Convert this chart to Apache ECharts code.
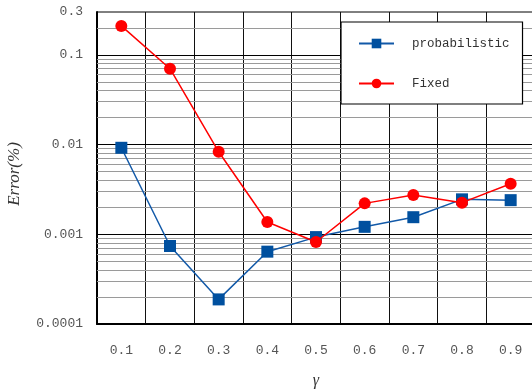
<!DOCTYPE html>
<html>
<head>
<meta charset="utf-8">
<script src="https://cdn.jsdelivr.net/npm/echarts@6/dist/echarts.min.js"></script>
<style>
  html, body { margin: 0; padding: 0; background: #fff; }
  #chart { width: 532px; height: 392px; }
</style>
</head>
<body>
<div id="chart"></div>
<script>
// γ values along the x axis
const gammas = ['0.1', '0.2', '0.3', '0.4', '0.5', '0.6', '0.7', '0.8', '0.9'];
// Error (%) for each method
const probabilistic = [0.0092, 0.00074, 0.000188, 0.00064, 0.00093, 0.00121, 0.00155, 0.00245, 0.0024];
const fixed = [0.21, 0.07, 0.0083, 0.00137, 0.00082, 0.00221, 0.00274, 0.00225, 0.00365];
// y axis labels
const yTickValues = [0.0001, 0.001, 0.01, 0.1, 0.3];
const yTickLabels = ['0.0001', '0.001', '0.01', '0.1', '0.3'];
// major and minor horizontal grid lines
const majorLines = [0.001, 0.01, 0.1];
const minorLines = [];
[0.0001, 0.001, 0.01, 0.1].forEach(function (d) {
  for (let m = 2; m <= 9; m++) {
    const v = +(d * m).toPrecision(3);
    if (v < 0.3) minorLines.push(v);
  }
});

const chart = echarts.init(document.getElementById('chart'), null, { renderer: 'canvas' });
const monoFont = '"Liberation Mono", "Courier New", monospace';

const gridLineData = minorLines.map(function (v) {
  return { yAxis: v, lineStyle: { color: '#9a9a9a', width: 1, type: 'solid' } };
}).concat(majorLines.map(function (v) {
  return { yAxis: v, lineStyle: { color: '#000', width: 1, type: 'solid' } };
}));

chart.setOption({
  animation: false,
  grid: {
    left: 97, top: 12, width: 438, height: 312,
    outerBoundsMode: 'none',
    containLabel: false,
    show: true, borderColor: '#000', borderWidth: 1, backgroundColor: 'transparent'
  },
  legend: {
    orient: 'vertical',
    left: 341, top: 22,
    padding: [15, 13, 14, 17],
    itemWidth: 35, itemHeight: 12, itemGap: 27,
    backgroundColor: '#fff',
    borderColor: '#000', borderWidth: 1.2,
    textStyle: { fontFamily: monoFont, fontSize: 12.5, color: '#333', padding: [0, 0, 0, 13] },
    data: ['probabilistic', 'Fixed']
  },
  xAxis: {
    type: 'category',
    data: gammas,
    boundaryGap: true,
    name: 'γ',
    nameLocation: 'middle',
    nameGap: 49,
    nameTextStyle: { fontFamily: '"Liberation Serif", serif', fontStyle: 'italic', fontSize: 16, color: '#333' },
    axisLine: { lineStyle: { color: '#000', width: 2 } },
    axisTick: { show: false },
    axisLabel: { fontFamily: monoFont, fontSize: 13, color: '#555', margin: 20 },
    splitLine: { show: true, lineStyle: { color: '#111', width: 1 } }
  },
  yAxis: {
    type: 'log',
    logBase: 10,
    min: 0.0001,
    max: 0.3,
    name: 'Error(%)',
    nameLocation: 'middle',
    nameGap: 74,
    nameTextStyle: {
      fontFamily: '"Liberation Serif", serif', fontStyle: 'italic', fontSize: 17, color: '#333',
      padding: [0, 12, 0, 0]
    },
    axisLine: { show: true, lineStyle: { color: '#000', width: 2 } },
    axisTick: {
      show: true, inside: true, length: 5,
      customValues: minorLines.concat(majorLines),
      lineStyle: { color: '#000', width: 1 }
    },
    splitLine: { show: false },
    axisLabel: {
      customValues: yTickValues,
      fontFamily: monoFont, fontSize: 13, color: '#555', margin: 14,
      formatter: function (v) {
        for (let i = 0; i < yTickValues.length; i++) {
          if (Math.abs(Math.log10(v) - Math.log10(yTickValues[i])) < 1e-6) return yTickLabels[i];
        }
        return '';
      }
    }
  },
  series: [
    {
      name: 'probabilistic',
      type: 'line',
      data: probabilistic,
      symbol: 'rect',
      symbolSize: 12,
      itemStyle: { color: '#00509f' },
      lineStyle: { color: '#1259a8', width: 1.5 },
      z: 3,
      markLine: {
        silent: true,
        symbol: 'none',
        precision: 8,
        label: { show: false },
        animation: false,
        z: 1,
        data: gridLineData
      }
    },
    {
      name: 'Fixed',
      type: 'line',
      data: fixed,
      symbol: 'circle',
      symbolSize: 12,
      itemStyle: { color: '#ff0000' },
      lineStyle: { color: '#ff0000', width: 1.5 },
      z: 4
    }
  ]
});
</script>
</body>
</html>
